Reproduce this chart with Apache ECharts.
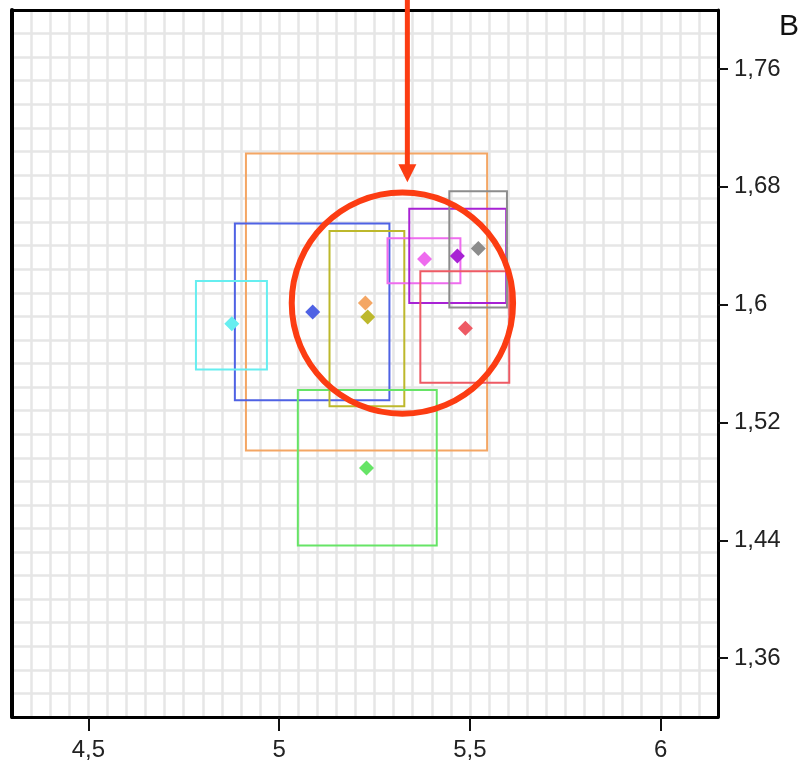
<!DOCTYPE html>
<html>
<head>
<meta charset="utf-8">
<style>
  html, body { margin: 0; padding: 0; background: #fff; }
  #chart { width: 799px; height: 762px; }
</style>
</head>
<body>
<div id="chart"></div>
<script src="https://cdn.jsdelivr.net/npm/echarts@6/dist/echarts.min.js"></script>
<script>
// one entry per group: orange, blue, cyan, olive, green, pink, purple, gray, red
const groupColors = ['#f4a664', '#4f62e4', '#66eef0', '#bdb82c', '#66e466', '#ee6cee', '#a822d4', '#8c8c8c', '#ee5a64']
const pointX = [5.226, 5.088, 4.876, 5.232, 5.229, 5.381, 5.467, 5.522, 5.488]
const pointY = [1.601, 1.595, 1.587, 1.5915, 1.489, 1.631, 1.633, 1.638, 1.584]
const boxXLow = [4.913, 4.884, 4.782, 5.132, 5.049, 5.284, 5.341, 5.446, 5.370]
const boxXHigh = [5.545, 5.289, 4.968, 5.328, 5.413, 5.475, 5.595, 5.597, 5.603]
const boxYLow = [1.501, 1.535, 1.556, 1.531, 1.4365, 1.6145, 1.601, 1.598, 1.547]
const boxYHigh = [1.7025, 1.655, 1.616, 1.650, 1.542, 1.645, 1.665, 1.677, 1.6226]

const xTicks = [4.5, 5, 5.5, 6]
const yTicks = [1.36, 1.44, 1.52, 1.6, 1.68, 1.76]

// red highlight annotation
const circleCenter = [5.323, 1.601]
const circleRadius = [0.29, 0.0751]
const arrowFrom = [5.336, 1.807]
const arrowTo = [5.336, 1.683]

const red = '#fc3c12'
const font = 'Liberation Sans, Arial, sans-serif'
const comma = v => String(v).replace('.', ',')

const chart = echarts.init(document.getElementById('chart'))

const gridSplit = { show: true, lineStyle: { color: '#e6e6e6', width: 2.5 } }
const border = { show: true, onZero: false, lineStyle: { color: '#000', width: 3 } }

chart.setOption({
  animation: false,
  backgroundColor: '#fff',
  grid: { left: 12, right: 81, top: 10, bottom: 45 },
  xAxis: [
    {
      type: 'value', min: 4.3, max: 6.15, interval: 0.05, position: 'top',
      axisLine: border, axisTick: { show: false }, axisLabel: { show: false },
      splitLine: gridSplit
    },
    {
      type: 'value', min: 4.3, max: 6.15, position: 'bottom',
      axisLine: border,
      axisTick: { show: true, customValues: xTicks, length: 14, lineStyle: { color: '#111', width: 2 } },
      axisLabel: { customValues: xTicks, formatter: comma, fontSize: 24, color: '#222', fontFamily: font, margin: 21 },
      splitLine: { show: false }
    }
  ],
  yAxis: [
    {
      type: 'value', min: 1.32, max: 1.8, interval: 0.016, position: 'left',
      axisLine: { show: true, onZero: false, lineStyle: { color: '#000', width: 4 } },
      axisTick: { show: false }, axisLabel: { show: false },
      splitLine: gridSplit
    },
    {
      type: 'value', min: 1.32, max: 1.8, position: 'right',
      axisLine: border,
      axisTick: { show: true, customValues: yTicks, length: 10, lineStyle: { color: '#111', width: 2 } },
      axisLabel: { customValues: yTicks, formatter: comma, fontSize: 24, color: '#222', fontFamily: font, margin: 16 },
      splitLine: { show: false }
    }
  ],
  graphic: [
    { type: 'text', left: 779, top: 12, style: { text: 'B', fontSize: 30, fontFamily: font, fill: '#111' } }
  ],
  series: [
    {
      type: 'custom',
      xAxisIndex: 1, yAxisIndex: 1,
      data: boxXLow.map((x, i) => [x, boxXHigh[i], boxYLow[i], boxYHigh[i]]),
      encode: { x: [0, 1], y: [2, 3] },
      renderItem: (params, api) => {
        const p1 = api.coord([api.value(0), api.value(3)])
        const p2 = api.coord([api.value(1), api.value(2)])
        return {
          type: 'rect',
          shape: { x: p1[0], y: p1[1], width: p2[0] - p1[0], height: p2[1] - p1[1] },
          style: { fill: 'none', stroke: groupColors[params.dataIndex], lineWidth: 2 }
        }
      },
      z: 2
    },
    {
      type: 'scatter',
      xAxisIndex: 1, yAxisIndex: 1,
      symbol: 'diamond',
      symbolSize: 15,
      data: pointX.map((x, i) => [x, pointY[i]]),
      itemStyle: { color: p => groupColors[p.dataIndex], opacity: 1 },
      z: 3
    },
    {
      type: 'custom',
      xAxisIndex: 1, yAxisIndex: 1,
      clip: false,
      data: [[circleCenter[0], circleCenter[1], arrowFrom[0], arrowFrom[1], arrowTo[0], arrowTo[1]]],
      renderItem: (params, api) => {
        const c = api.coord([api.value(0), api.value(1)])
        const r = api.size([circleRadius[0], circleRadius[1]])
        const a = api.coord([api.value(2), api.value(3)])
        const b = api.coord([api.value(4), api.value(5)])
        const head = 18
        return {
          type: 'group',
          children: [
            { type: 'ellipse', shape: { cx: c[0], cy: c[1], rx: r[0], ry: r[1] }, style: { fill: 'none', stroke: red, lineWidth: 6 } },
            { type: 'line', shape: { x1: a[0], y1: a[1], x2: b[0], y2: b[1] - head + 2 }, style: { stroke: red, lineWidth: 5 } },
            { type: 'polygon', shape: { points: [[b[0] - 9, b[1] - head], [b[0] + 9, b[1] - head], [b[0], b[1]]] }, style: { fill: red } }
          ]
        }
      },
      z: 5
    }
  ]
})
</script>
</body>
</html>
